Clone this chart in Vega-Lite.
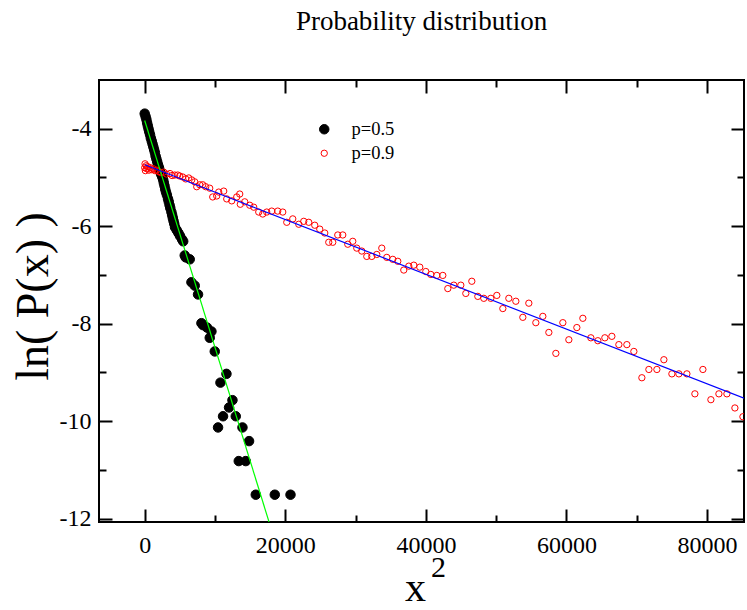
{
  "$schema": "https://vega.github.io/schema/vega-lite/v6.json",
  "width": 645,
  "height": 442,
  "autosize": {"type": "none"},
  "padding": {"left": 99, "top": 80, "right": 3, "bottom": 88},
  "title": {"text": "Probability distribution", "font": "Liberation Serif", "fontSize": 27, "fontWeight": "normal", "color": "black", "anchor": "middle", "baseline": "alphabetic", "offset": 22},
  "config": {
    "view": {"stroke": "black", "strokeWidth": 2},
    "axis": {"grid": false, "domain": false, "tickColor": "black", "tickWidth": 2, "labelFont": "Liberation Serif", "labelFontSize": 24, "labelColor": "black", "titleFont": "Liberation Serif", "titleFontWeight": "normal", "titleColor": "black"}
  },
  "datasets": {
    "black": [
      {"x": 0, "y": -3.69, "series": "p=0.5"}, {"x": 128, "y": -3.75, "series": "p=0.5"}, {"x": 242, "y": -3.81, "series": "p=0.5"}, {"x": 342, "y": -3.88, "series": "p=0.5"}, {"x": 441, "y": -3.94, "series": "p=0.5"}, {"x": 541, "y": -4.0, "series": "p=0.5"}, {"x": 640, "y": -4.06, "series": "p=0.5"}, {"x": 754, "y": -4.12, "series": "p=0.5"}, {"x": 868, "y": -4.19, "series": "p=0.5"}, {"x": 996, "y": -4.25, "series": "p=0.5"}, {"x": 1110, "y": -4.31, "series": "p=0.5"}, {"x": 1224, "y": -4.37, "series": "p=0.5"}, {"x": 1338, "y": -4.43, "series": "p=0.5"}, {"x": 1451, "y": -4.49, "series": "p=0.5"}, {"x": 1551, "y": -4.56, "series": "p=0.5"}, {"x": 1665, "y": -4.62, "series": "p=0.5"}, {"x": 1779, "y": -4.68, "series": "p=0.5"}, {"x": 1893, "y": -4.74, "series": "p=0.5"}, {"x": 2035, "y": -4.8, "series": "p=0.5"}, {"x": 2177, "y": -4.87, "series": "p=0.5"}, {"x": 2319, "y": -4.93, "series": "p=0.5"}, {"x": 2490, "y": -4.99, "series": "p=0.5"}, {"x": 2633, "y": -5.05, "series": "p=0.5"}, {"x": 2718, "y": -5.11, "series": "p=0.5"}, {"x": 2818, "y": -5.17, "series": "p=0.5"}, {"x": 2917, "y": -5.24, "series": "p=0.5"}, {"x": 3031, "y": -5.3, "series": "p=0.5"}, {"x": 3159, "y": -5.36, "series": "p=0.5"}, {"x": 3316, "y": -5.44, "series": "p=0.5"}, {"x": 3429, "y": -5.5, "series": "p=0.5"}, {"x": 3543, "y": -5.57, "series": "p=0.5"}, {"x": 3643, "y": -5.63, "series": "p=0.5"}, {"x": 3799, "y": -5.71, "series": "p=0.5"}, {"x": 3899, "y": -5.77, "series": "p=0.5"}, {"x": 3999, "y": -5.83, "series": "p=0.5"}, {"x": 4098, "y": -5.89, "series": "p=0.5"}, {"x": 4198, "y": -5.95, "series": "p=0.5"}, {"x": 4312, "y": -6.02, "series": "p=0.5"}, {"x": 4554, "y": -6.08, "series": "p=0.5"}, {"x": 4796, "y": -6.14, "series": "p=0.5"}, {"x": 5023, "y": -6.2, "series": "p=0.5"}, {"x": 5308, "y": -6.27, "series": "p=0.5"}, {"x": 5479, "y": -6.31, "series": "p=0.5"},
      {"x": 5694, "y": -6.6, "series": "p=0.5"}, {"x": 5836, "y": -6.64, "series": "p=0.5"}, {"x": 6406, "y": -6.68, "series": "p=0.5"}, {"x": 6648, "y": -7.15, "series": "p=0.5"}, {"x": 7118, "y": -7.22, "series": "p=0.5"}, {"x": 7587, "y": -7.4, "series": "p=0.5"}, {"x": 8071, "y": -7.99, "series": "p=0.5"}, {"x": 8299, "y": -8.03, "series": "p=0.5"}, {"x": 8869, "y": -8.08, "series": "p=0.5"}, {"x": 9495, "y": -8.16, "series": "p=0.5"}, {"x": 9253, "y": -8.29, "series": "p=0.5"}, {"x": 9965, "y": -8.57, "series": "p=0.5"}, {"x": 11630, "y": -9.03, "series": "p=0.5"}, {"x": 10776, "y": -9.21, "series": "p=0.5"}, {"x": 12484, "y": -9.57, "series": "p=0.5"}, {"x": 12000, "y": -9.72, "series": "p=0.5"}, {"x": 11146, "y": -9.9, "series": "p=0.5"}, {"x": 12954, "y": -9.9, "series": "p=0.5"}, {"x": 10434, "y": -10.13, "series": "p=0.5"}, {"x": 13907, "y": -10.13, "series": "p=0.5"}, {"x": 14847, "y": -10.41, "series": "p=0.5"}, {"x": 13381, "y": -10.82, "series": "p=0.5"}, {"x": 14377, "y": -10.82, "series": "p=0.5"}, {"x": 15801, "y": -11.51, "series": "p=0.5"}, {"x": 18506, "y": -11.51, "series": "p=0.5"}, {"x": 20741, "y": -11.51, "series": "p=0.5"}
    ],
    "red": [
      {"x": 0, "y": -4.8, "series": "p=0.9"}, {"x": 50, "y": -4.72, "series": "p=0.9"}, {"x": 100, "y": -4.86, "series": "p=0.9"}, {"x": 200, "y": -4.76, "series": "p=0.9"}, {"x": 300, "y": -4.82, "series": "p=0.9"}, {"x": 450, "y": -4.78, "series": "p=0.9"}, {"x": 600, "y": -4.85, "series": "p=0.9"}, {"x": 800, "y": -4.8, "series": "p=0.9"}, {"x": 1000, "y": -4.84, "series": "p=0.9"}, {"x": 1200, "y": -4.82, "series": "p=0.9"}, {"x": 1450, "y": -4.86, "series": "p=0.9"}, {"x": 1700, "y": -4.85, "series": "p=0.9"}, {"x": 2000, "y": -4.88, "series": "p=0.9"}, {"x": 2300, "y": -4.9, "series": "p=0.9"}, {"x": 2700, "y": -4.89, "series": "p=0.9"}, {"x": 3100, "y": -4.93, "series": "p=0.9"}, {"x": 3600, "y": -4.92, "series": "p=0.9"}, {"x": 3900, "y": -4.96, "series": "p=0.9"},
      {"x": 4269, "y": -4.95, "series": "p=0.9"}, {"x": 4696, "y": -4.95, "series": "p=0.9"}, {"x": 4981, "y": -4.97, "series": "p=0.9"}, {"x": 5407, "y": -4.99, "series": "p=0.9"}, {"x": 5834, "y": -5.03, "series": "p=0.9"}, {"x": 6261, "y": -5.01, "series": "p=0.9"}, {"x": 6688, "y": -5.05, "series": "p=0.9"}, {"x": 7115, "y": -5.09, "series": "p=0.9"}, {"x": 7400, "y": -5.19, "series": "p=0.9"}, {"x": 7827, "y": -5.15, "series": "p=0.9"}, {"x": 8253, "y": -5.15, "series": "p=0.9"}, {"x": 8680, "y": -5.19, "series": "p=0.9"}, {"x": 9250, "y": -5.22, "series": "p=0.9"}, {"x": 9676, "y": -5.4, "series": "p=0.9"}, {"x": 10246, "y": -5.38, "series": "p=0.9"}, {"x": 10530, "y": -5.3, "series": "p=0.9"}, {"x": 11242, "y": -5.28, "series": "p=0.9"}, {"x": 11669, "y": -5.44, "series": "p=0.9"}, {"x": 12380, "y": -5.48, "series": "p=0.9"}, {"x": 13092, "y": -5.4, "series": "p=0.9"}, {"x": 13519, "y": -5.34, "series": "p=0.9"}, {"x": 13600, "y": -5.55, "series": "p=0.9"}, {"x": 14230, "y": -5.5, "series": "p=0.9"}, {"x": 14942, "y": -5.57, "series": "p=0.9"}, {"x": 15511, "y": -5.61, "series": "p=0.9"}, {"x": 16222, "y": -5.71, "series": "p=0.9"}, {"x": 16791, "y": -5.75, "series": "p=0.9"}, {"x": 17361, "y": -5.71, "series": "p=0.9"}, {"x": 18072, "y": -5.69, "series": "p=0.9"}, {"x": 18926, "y": -5.69, "series": "p=0.9"}, {"x": 19637, "y": -5.71, "series": "p=0.9"}, {"x": 20207, "y": -5.92, "series": "p=0.9"}, {"x": 21060, "y": -5.85, "series": "p=0.9"}, {"x": 21914, "y": -5.96, "series": "p=0.9"}, {"x": 22626, "y": -5.9, "series": "p=0.9"}, {"x": 23337, "y": -5.92, "series": "p=0.9"}, {"x": 24191, "y": -5.98, "series": "p=0.9"}, {"x": 24902, "y": -6.06, "series": "p=0.9"}, {"x": 25614, "y": -6.14, "series": "p=0.9"}, {"x": 26183, "y": -6.33, "series": "p=0.9"}, {"x": 26752, "y": -6.33, "series": "p=0.9"}, {"x": 27464, "y": -6.18, "series": "p=0.9"}, {"x": 28175, "y": -6.18, "series": "p=0.9"}, {"x": 28887, "y": -6.37, "series": "p=0.9"}, {"x": 29598, "y": -6.31, "series": "p=0.9"}, {"x": 30167, "y": -6.45, "series": "p=0.9"}, {"x": 30879, "y": -6.51, "series": "p=0.9"}, {"x": 31590, "y": -6.62, "series": "p=0.9"}, {"x": 32302, "y": -6.62, "series": "p=0.9"}, {"x": 33013, "y": -6.58, "series": "p=0.9"}, {"x": 33725, "y": -6.45, "series": "p=0.9"}, {"x": 34437, "y": -6.64, "series": "p=0.9"}, {"x": 35290, "y": -6.68, "series": "p=0.9"}, {"x": 36002, "y": -6.72, "series": "p=0.9"}, {"x": 36855, "y": -6.9, "series": "p=0.9"}, {"x": 37567, "y": -6.82, "series": "p=0.9"}, {"x": 38279, "y": -6.8, "series": "p=0.9"}, {"x": 39133, "y": -6.84, "series": "p=0.9"}, {"x": 39986, "y": -6.93, "series": "p=0.9"}, {"x": 40698, "y": -6.99, "series": "p=0.9"}, {"x": 41551, "y": -7.01, "series": "p=0.9"}, {"x": 42405, "y": -7.01, "series": "p=0.9"}, {"x": 43117, "y": -7.28, "series": "p=0.9"}, {"x": 43971, "y": -7.21, "series": "p=0.9"}, {"x": 44967, "y": -7.21, "series": "p=0.9"}, {"x": 45678, "y": -7.38, "series": "p=0.9"}, {"x": 46532, "y": -7.13, "series": "p=0.9"}, {"x": 47386, "y": -7.44, "series": "p=0.9"}, {"x": 48239, "y": -7.48, "series": "p=0.9"}, {"x": 49236, "y": -7.48, "series": "p=0.9"}, {"x": 50089, "y": -7.42, "series": "p=0.9"}, {"x": 50943, "y": -7.69, "series": "p=0.9"}, {"x": 51797, "y": -7.48, "series": "p=0.9"}, {"x": 52793, "y": -7.54, "series": "p=0.9"}, {"x": 53789, "y": -7.87, "series": "p=0.9"}, {"x": 54643, "y": -7.58, "series": "p=0.9"}, {"x": 55639, "y": -7.98, "series": "p=0.9"}, {"x": 56635, "y": -7.85, "series": "p=0.9"}, {"x": 57489, "y": -8.18, "series": "p=0.9"}, {"x": 58485, "y": -8.61, "series": "p=0.9"}, {"x": 59481, "y": -7.98, "series": "p=0.9"}, {"x": 60335, "y": -8.33, "series": "p=0.9"}, {"x": 61473, "y": -8.08, "series": "p=0.9"}, {"x": 62327, "y": -7.89, "series": "p=0.9"}, {"x": 63465, "y": -8.29, "series": "p=0.9"}, {"x": 64461, "y": -8.35, "series": "p=0.9"}, {"x": 65457, "y": -8.29, "series": "p=0.9"}, {"x": 66453, "y": -8.26, "series": "p=0.9"}, {"x": 67449, "y": -8.43, "series": "p=0.9"}, {"x": 68587, "y": -8.43, "series": "p=0.9"}, {"x": 69583, "y": -8.57, "series": "p=0.9"}, {"x": 70722, "y": -9.11, "series": "p=0.9"}, {"x": 71718, "y": -8.94, "series": "p=0.9"}, {"x": 72857, "y": -8.94, "series": "p=0.9"}, {"x": 73853, "y": -8.74, "series": "p=0.9"}, {"x": 74991, "y": -9.03, "series": "p=0.9"}, {"x": 75987, "y": -9.03, "series": "p=0.9"}, {"x": 77126, "y": -9.03, "series": "p=0.9"}, {"x": 78264, "y": -9.44, "series": "p=0.9"}, {"x": 79403, "y": -8.94, "series": "p=0.9"}, {"x": 80541, "y": -9.56, "series": "p=0.9"}, {"x": 81680, "y": -9.44, "series": "p=0.9"}, {"x": 82818, "y": -9.44, "series": "p=0.9"}, {"x": 83956, "y": -9.73, "series": "p=0.9"}, {"x": 85094, "y": -9.91, "series": "p=0.9"}
    ],
    "green": [{"x": 0, "y": -3.83}, {"x": 17690, "y": -12.07}],
    "blue": [{"x": 0, "y": -4.74}, {"x": 85250, "y": -9.53}]
  },
  "layer": [
    {
      "data": {"name": "black"},
      "mark": {"type": "point", "filled": true, "strokeWidth": 1, "opacity": 1, "clip": true},
      "encoding": {
        "x": {"field": "x", "type": "quantitative", "scale": {"domain": [-6500, 85250], "nice": false, "zero": false},
          "axis": {"orient": "bottom", "values": [0, 20000, 40000, 60000, 80000], "tickSize": -13, "labelPadding": 24, "labelExpr": "datum.value + ''", "labelFlush": false, "labelOverlap": false, "title": "x", "titleFontSize": 42, "titleBaseline": "alphabetic", "titleX": 316, "titleY": 78}},
        "y": {"field": "y", "type": "quantitative", "scale": {"domain": [-12.07, -3], "nice": false, "zero": false},
          "axis": {"orient": "left", "values": [-4, -6, -8, -10, -12], "tickSize": -13, "labelPadding": 21, "labelExpr": "datum.value + ''", "labelFlush": false, "labelOverlap": false, "title": "ln( P(x) )", "titleFontSize": 46, "titleAngle": -90, "titleBaseline": "middle", "titleX": -66, "titleY": 216}},
        "fill": {"field": "series", "type": "nominal", "scale": {"domain": ["p=0.5", "p=0.9"], "range": ["black", "transparent"]},
          "legend": {"orient": "none", "legendX": 216, "legendY": 40, "title": null, "labelFont": "Liberation Serif", "labelFontSize": 18.5, "labelColor": "black", "labelOffset": 18, "rowPadding": 5, "symbolStrokeWidth": 1, "symbolOpacity": 1, "symbolType": "circle"}},
        "stroke": {"field": "series", "type": "nominal", "scale": {"domain": ["p=0.5", "p=0.9"], "range": ["black", "red"]},
          "legend": {"orient": "none", "legendX": 216, "legendY": 40, "title": null, "labelFont": "Liberation Serif", "labelFontSize": 18.5, "labelColor": "black", "labelOffset": 18, "rowPadding": 5, "symbolStrokeWidth": 1, "symbolOpacity": 1, "symbolType": "circle"}},
        "size": {"field": "series", "type": "ordinal", "scale": {"domain": ["p=0.5", "p=0.9"], "range": [90, 40]},
          "legend": {"orient": "none", "legendX": 216, "legendY": 40, "title": null, "labelFont": "Liberation Serif", "labelFontSize": 18.5, "labelColor": "black", "labelOffset": 18, "rowPadding": 5, "symbolStrokeWidth": 1, "symbolOpacity": 1, "symbolType": "circle"}}
      }
    },
    {
      "data": {"name": "red"},
      "mark": {"type": "point", "filled": true, "strokeWidth": 1, "opacity": 1, "clip": true},
      "encoding": {
        "x": {"field": "x", "type": "quantitative", "scale": {"domain": [-6500, 85250], "nice": false, "zero": false},
          "axis": {"orient": "bottom", "values": [10000, 30000, 50000, 70000], "tickSize": -7, "labels": false, "title": "2", "titleFontSize": 30, "titleBaseline": "alphabetic", "titleX": 339, "titleY": 54}},
        "y": {"field": "y", "type": "quantitative", "scale": {"domain": [-12.07, -3], "nice": false, "zero": false},
          "axis": {"orient": "left", "values": [-5, -7, -9, -11], "tickSize": -7, "labels": false, "title": null}},
        "fill": {"field": "series", "type": "nominal", "scale": {"domain": ["p=0.5", "p=0.9"], "range": ["black", "transparent"]}},
        "stroke": {"field": "series", "type": "nominal", "scale": {"domain": ["p=0.5", "p=0.9"], "range": ["black", "red"]}},
        "size": {"field": "series", "type": "ordinal", "scale": {"domain": ["p=0.5", "p=0.9"], "range": [90, 40]}}
      }
    },
    {
      "data": {"name": "green"},
      "mark": {"type": "line", "color": "#00ff00", "strokeWidth": 1.2, "clip": true},
      "encoding": {
        "x": {"field": "x", "type": "quantitative", "scale": {"domain": [-6500, 85250], "nice": false, "zero": false},
          "axis": {"orient": "top", "values": [0, 20000, 40000, 60000, 80000], "tickSize": -13, "labels": false, "title": null}},
        "y": {"field": "y", "type": "quantitative", "scale": {"domain": [-12.07, -3], "nice": false, "zero": false},
          "axis": {"orient": "right", "values": [-4, -6, -8, -10, -12], "tickSize": -13, "labels": false, "title": null}}
      }
    },
    {
      "data": {"name": "blue"},
      "mark": {"type": "line", "color": "#0000ff", "strokeWidth": 1.2, "clip": true},
      "encoding": {
        "x": {"field": "x", "type": "quantitative", "scale": {"domain": [-6500, 85250], "nice": false, "zero": false},
          "axis": {"orient": "top", "values": [10000, 30000, 50000, 70000], "tickSize": -7, "labels": false, "title": null}},
        "y": {"field": "y", "type": "quantitative", "scale": {"domain": [-12.07, -3], "nice": false, "zero": false},
          "axis": {"orient": "right", "values": [-5, -7, -9, -11], "tickSize": -7, "labels": false, "title": null}}
      }
    }
  ],
  "resolve": {"axis": {"x": "independent", "y": "independent"}}
}
